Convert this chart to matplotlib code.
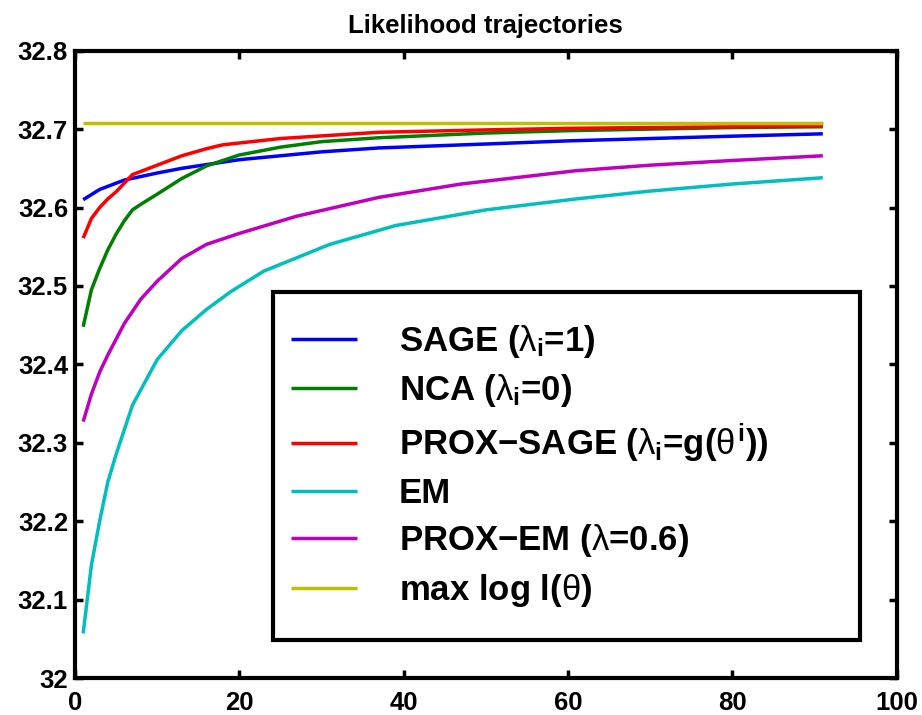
import matplotlib
matplotlib.use("Agg")
from matplotlib import pyplot as plt
from matplotlib.patches import Rectangle

# iterations and log-likelihood values
sage_it = [1, 3, 6, 10, 13, 20, 30, 37, 50, 60, 70, 80, 91]
sage_ll = [32.610, 32.623, 32.635, 32.644, 32.650, 32.661, 32.671, 32.676,
           32.681, 32.685, 32.688, 32.691, 32.694]

nca_it = [1, 2, 3, 4, 5, 6, 7, 8, 10, 13, 16, 20, 25, 30, 37, 50, 60, 70, 80, 91]
nca_ll = [32.448, 32.495, 32.522, 32.546, 32.566, 32.583, 32.597, 32.604,
          32.617, 32.637, 32.653, 32.667, 32.677, 32.684, 32.689, 32.695,
          32.698, 32.700, 32.702, 32.703]

prox_sage_it = [1, 2, 3, 4, 5, 7, 10, 13, 16, 18, 25, 37, 50, 60, 70, 80, 91]
prox_sage_ll = [32.561, 32.586, 32.600, 32.611, 32.620, 32.642, 32.654,
                32.666, 32.675, 32.680, 32.688, 32.696, 32.699, 32.701,
                32.702, 32.703, 32.704]

em_it = [1, 2, 3, 4, 5, 7, 10, 13, 16, 19, 23, 31, 39, 50, 61, 70, 80, 91]
em_ll = [32.057, 32.144, 32.200, 32.250, 32.285, 32.348, 32.406, 32.443,
         32.470, 32.493, 32.519, 32.553, 32.577, 32.597, 32.611, 32.621,
         32.630, 32.638]

prox_em_it = [1, 2, 3, 4, 5, 6, 8, 10, 13, 16, 20, 27, 37, 47, 61, 70, 80, 91]
prox_em_ll = [32.327, 32.362, 32.390, 32.412, 32.432, 32.452, 32.483,
              32.506, 32.535, 32.553, 32.567, 32.589, 32.613, 32.630,
              32.647, 32.654, 32.660, 32.666]

max_it = [1, 91]
max_ll = [32.708, 32.708]

lam = r'\mathit{\lambda}'
labels = [r'SAGE ($%s_\mathregular{i}$=1)' % lam,
          r'NCA ($%s_\mathregular{i}$=0)' % lam,
          r'PROX$-$SAGE ($%s_\mathregular{i}$=g($\mathit{\theta}^\mathregular{i}$))' % lam,
          'EM',
          r'PROX$-$EM ($%s$=0.6)' % lam,
          r'max log l($\mathit{\theta}$)']
colors = ['#0000ff', '#008000', '#ff0000', '#00bfbf', '#bf00bf', '#bfbf00']

plt.rcParams['font.family'] = 'Liberation Sans'
plt.rcParams['font.weight'] = 'bold'
plt.rcParams['mathtext.fontset'] = 'custom'
plt.rcParams['mathtext.rm'] = 'Liberation Sans:weight=bold'
plt.rcParams['mathtext.it'] = 'Liberation Sans:weight=normal'
plt.rcParams['mathtext.bf'] = 'Liberation Sans:weight=bold'

fig = plt.figure(figsize=(9.22, 7.15), dpi=100)
ax = fig.add_axes([0.0813, 0.0517, 0.8913, 0.8774])

series = [(sage_it, sage_ll), (nca_it, nca_ll), (prox_sage_it, prox_sage_ll),
          (em_it, em_ll), (prox_em_it, prox_em_ll), (max_it, max_ll)]
for (it, ll), c, lab in zip(series, colors, labels):
    ax.plot(it, ll, color=c, lw=2.5, label=lab, solid_capstyle='butt')

ax.set_xlim(0, 100)
ax.set_ylim(32, 32.8)
ax.set_xticks([0, 20, 40, 60, 80, 100])
ax.set_yticks([32, 32.1, 32.2, 32.3, 32.4, 32.5, 32.6, 32.7, 32.8])
ax.set_yticklabels(['32', '32.1', '32.2', '32.3', '32.4', '32.5', '32.6', '32.7', '32.8'])
ax.tick_params(direction='in', length=6, width=2.5, labelsize=18.5,
               top=True, right=True)
ax.tick_params(axis='x', pad=9)
ax.tick_params(axis='y', pad=5)
for s in ax.spines.values():
    s.set_linewidth(3)

ax.set_title('Likelihood trajectories', fontsize=18.5, fontweight='bold', pad=13)

# legend box drawn separately so the padding can differ from the text spacing
ax.add_patch(Rectangle((0.241, 0.0606), 0.7143, 0.5547, transform=ax.transAxes,
                       facecolor='white', edgecolor='black', lw=3, zorder=4))
leg = ax.legend(loc='upper left', bbox_to_anchor=(0.263, 0.566),
                borderaxespad=0, borderpad=0, fontsize=25, handlelength=1.9,
                handletextpad=1.21, labelspacing=0.36, frameon=False)
leg.set_zorder(5)

fig.savefig('out.png', dpi=100)
